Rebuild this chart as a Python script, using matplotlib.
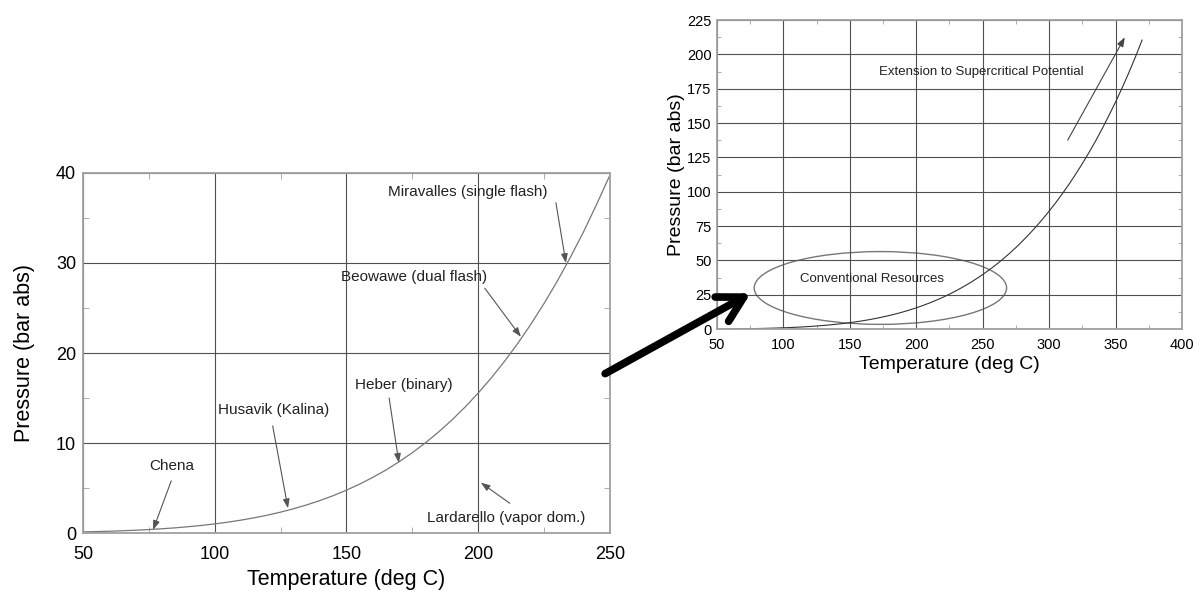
import matplotlib.pyplot as plt
from matplotlib.patches import Ellipse, FancyArrowPatch
from matplotlib.ticker import MultipleLocator

plt.rcParams['font.family'] = ['Liberation Sans', 'DejaVu Sans']

# saturation pressure of water (steam table values, 5 deg C steps)
temp_c = [50, 55, 60, 65, 70, 75, 80, 85, 90, 95, 100, 105, 110, 115, 120,
          125, 130, 135, 140, 145, 150, 155, 160, 165, 170, 175, 180, 185,
          190, 195, 200, 205, 210, 215, 220, 225, 230, 235, 240, 245, 250,
          255, 260, 265, 270, 275, 280, 285, 290, 295, 300, 305, 310, 315,
          320, 325, 330, 335, 340, 345, 350, 355, 360, 365, 370]
press_bar = [0.1235, 0.1576, 0.1994, 0.2503, 0.3119, 0.3858, 0.4739, 0.5783,
             0.7014, 0.8455, 1.0142, 1.2090, 1.4338, 1.6918, 1.9867, 2.3208,
             2.7028, 3.1320, 3.6154, 4.1537, 4.7616, 5.4342, 6.1823, 7.0001,
             7.9219, 8.9245, 10.028, 11.233, 12.552, 13.987, 15.549, 17.243,
             19.077, 21.060, 23.196, 25.504, 27.971, 30.640, 33.469, 36.546,
             39.762, 43.21, 46.923, 50.83, 55.030, 59.43, 64.166, 69.13,
             74.418, 79.99, 85.879, 92.09, 98.651, 105.5, 112.84, 120.5,
             128.58, 137.0, 146.00, 155.5, 165.29, 175.7, 186.66, 198.2,
             210.43]

# plants: label, text position, arrow head, arrow tail
plant_names = ["Chena", "Husavik (Kalina)", "Heber (binary)",
               "Beowawe (dual flash)", "Miravalles (single flash)",
               "Lardarello (vapor dom.)"]
plant_text_xy = [(83.8, 7.4), (122.5, 13.7), (171.8, 16.4),
                 (175.6, 28.4), (196.1, 37.9), (210.5, 1.7)]
plant_head_xy = [(76.6, 0.35), (127.8, 2.75), (169.9, 7.8),
                 (216.2, 21.8), (233.3, 30.0), (201.0, 5.6)]
plant_tail_xy = [(83.5, 5.8), (122.0, 11.9), (166.2, 15.0),
                 (202.5, 27.2), (229.5, 36.7), (212.0, 3.3)]

spine_col = "#a0a0a0"
grid_col = "#505050"

fig = plt.figure(figsize=(12.03, 5.91), dpi=100)

# ---- left (zoomed) chart
ax = fig.add_axes([0.069, 0.0981, 0.438, 0.6092])
t_left = [t for t in temp_c if t <= 250]
p_left = press_bar[:len(t_left)]
ax.plot(t_left, p_left, color="#777777", lw=0.9)
ax.set_xlim(50, 250)
ax.set_ylim(0, 40)
ax.xaxis.set_major_locator(MultipleLocator(50))
ax.yaxis.set_major_locator(MultipleLocator(10))
ax.xaxis.set_minor_locator(MultipleLocator(25))
ax.yaxis.set_minor_locator(MultipleLocator(5))
ax.grid(True, which="major", color=grid_col, lw=0.8)
ax.tick_params(which="major", length=0, labelsize=13, pad=5)
ax.tick_params(axis="x", which="major", pad=9)
ax.tick_params(which="minor", direction="in", length=4, color=spine_col,
               top=True, right=True)
for s in ax.spines.values():
    s.set_color(spine_col)
    s.set_linewidth(1.3)
ax.set_xlabel("Temperature (deg C)", fontsize=15.5, labelpad=5)
ax.set_ylabel("Pressure (bar abs)", fontsize=15.5, labelpad=15)

for name, txy, hxy, sxy in zip(plant_names, plant_text_xy, plant_head_xy, plant_tail_xy):
    ax.text(txy[0], txy[1], name, fontsize=11, ha="center", va="center", color="#222222")
    ax.annotate("", xy=hxy, xytext=sxy,
                arrowprops=dict(arrowstyle="-|>,head_length=0.55,head_width=0.2",
                                color="#555555", lw=0.8, shrinkA=0, shrinkB=0))

# ---- right (full range) chart
ax2 = fig.add_axes([0.596, 0.443, 0.3865, 0.523])
ax2.plot(temp_c, press_bar, color="#333333", lw=0.8)
ax2.set_xlim(50, 400)
ax2.set_ylim(0, 225)
ax2.xaxis.set_major_locator(MultipleLocator(50))
ax2.yaxis.set_major_locator(MultipleLocator(25))
ax2.xaxis.set_minor_locator(MultipleLocator(25))
ax2.yaxis.set_minor_locator(MultipleLocator(12.5))
ax2.grid(True, which="major", color=grid_col, lw=0.8)
ax2.tick_params(which="major", length=0, labelsize=10.5, pad=4)
ax2.tick_params(axis="x", which="major", pad=6)
ax2.tick_params(which="minor", direction="in", length=3, color=spine_col,
                top=True, right=True)
for s in ax2.spines.values():
    s.set_color(spine_col)
    s.set_linewidth(1.3)
ax2.set_xlabel("Temperature (deg C)", fontsize=14, labelpad=3)
ax2.set_ylabel("Pressure (bar abs)", fontsize=14, labelpad=1)

ax2.add_patch(Ellipse((173, 30), 190, 53, fill=False, ec="#777777", lw=1.0))
ax2.text(167, 36.4, "Conventional Resources", fontsize=9.5, ha="center",
         va="center", color="#222222")
ax2.text(249, 187, "Extension to Supercritical Potential", fontsize=9.5,
         ha="center", va="center", color="#222222")
ax2.annotate("", xy=(357, 212.5), xytext=(314, 137.6),
             arrowprops=dict(arrowstyle="-|>,head_length=0.55,head_width=0.2",
                             color="#444444", lw=0.8, shrinkA=0, shrinkB=0))

# big arrow from left chart into the ellipse
fig.patches.append(FancyArrowPatch(
    (0.501, 0.3655), (0.626, 0.506), transform=fig.transFigure,
    arrowstyle="->,head_length=0.9,head_width=0.5", mutation_scale=20,
    color="black", lw=5.5, capstyle="round", joinstyle="round"))

fig.savefig("out.png", dpi=100)
